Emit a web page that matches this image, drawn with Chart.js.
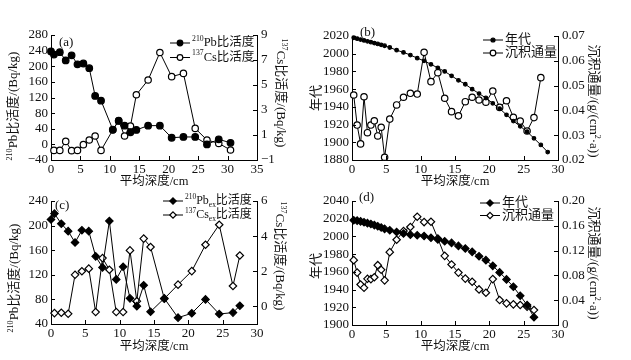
<!DOCTYPE html>
<html>
<head>
<meta charset="utf-8">
<script src="https://cdn.jsdelivr.net/npm/chart.js@4.4.1/dist/chart.umd.min.js"></script>
<style>
  html, body { margin: 0; padding: 0; background: #fff; }
  #wrap { position: relative; width: 631px; height: 360px; overflow: hidden; }
  canvas { position: absolute; }
</style>
</head>
<body>
<div id="wrap">
  <canvas id="ca" width="300" height="190" style="left:0;top:0"></canvas>
  <canvas id="cb" width="331" height="190" style="left:300px;top:0"></canvas>
  <canvas id="cc" width="300" height="194" style="left:0;top:166px"></canvas>
  <canvas id="cd" width="331" height="194" style="left:300px;top:166px"></canvas>
</div>
<script>
// ---- panel (a): 210Pb / 137Cs activity ----
const aPbDepth = [0, 0.5, 1.5, 2.5, 3.5, 4.5, 5.5, 6.5, 7.5, 8.5, 10.5, 11.5, 12.5, 13.5, 14.5, 16.5, 18.5, 20.5, 22.5, 24.5, 26.5, 28.5, 30.5];
const aPb = [238, 230, 236, 215, 228, 205, 207, 195, 124, 112, 38, 60, 48, 31, 37, 48, 48, 17, 19, 19, 0, 13, 4];
const aCsDepth = [0.5, 1.5, 2.5, 3.5, 4.5, 5.5, 6.5, 7.5, 8.5, 10.5, 11.5, 12.5, 13.5, 14.5, 16.5, 18.5, 20.5, 22.5, 24.5, 26.5, 28.5, 30.5];
const aCs = [-0.23, -0.23, 0.49, -0.25, -0.23, 0.23, 0.6, 0.92, -0.23, 1.4, 2.15, 0.92, 1.72, 4.22, 5.4, 7.6, 5.67, 5.93, 1.53, 0.6, 0.33, -0.2];
const aTicksX = [0, 5, 10, 15, 20, 25, 30, 35];
const aTicksL = [-40, 0, 40, 80, 120, 160, 200, 240, 280];
const aTicksR = [-1, 1, 3, 5, 7, 9];

// ---- panel (b): age / flux ----
const bDepth = [0.25, 0.75, 1.25, 1.75, 2.25, 2.75, 3.25, 3.75, 4.25, 4.75, 5.5, 6.5, 7.5, 8.5, 9.5, 10.5, 11.5, 12.5, 13.5, 14.5, 15.5, 16.5, 17.5, 18.5, 19.5, 20.5, 21.5, 22.5, 23.5, 24.5, 25.5, 26.5, 27.5, 28.5];
const bAge = [2018, 2017, 2016, 2015, 2014, 2013, 2012, 2011, 2010, 2009, 2007, 2004, 2001.5, 1998.5, 1995, 1992, 1988, 1984, 1980, 1975, 1970, 1965.5, 1960, 1955, 1950, 1944, 1938, 1931, 1924, 1918, 1912, 1904.5, 1897, 1889];
const bFlux = [0.0462, 0.0341, 0.0265, 0.0455, 0.031, 0.0341, 0.0358, 0.0297, 0.0332, 0.0211, 0.0365, 0.0422, 0.0453, 0.0469, 0.0466, 0.0634, 0.0516, 0.0552, 0.0449, 0.0395, 0.0378, 0.0435, 0.0453, 0.0442, 0.0433, 0.0478, 0.0412, 0.0439, 0.0372, 0.0357, 0.0317, 0.0371, 0.0532];
const bTicksX = [0, 5, 10, 15, 20, 25, 30];
const bTicksL = [1880, 1900, 1920, 1940, 1960, 1980, 2000, 2020];
const bTicksR = [0.02, 0.03, 0.04, 0.05, 0.06, 0.07];

// ---- panel (c): 210Pbex / 137Csex activity ----
const cPbDepth = [0, 0.5, 1.5, 2.5, 3.5, 4.5, 5.5, 6.5, 7.5, 8.5, 9.5, 10.5, 11.5, 12.5, 13.5, 14.5, 16.5, 18.5, 20.5, 22.5, 24.5, 26.5, 27.5];
const cPb = [210, 219.5, 203, 191, 172.5, 192.5, 191, 150, 132, 207.5, 112.5, 133, 81.7, 69, 103, 60, 81.7, 50.3, 57.4, 80, 56.3, 58.5, 69.7];
const cCsDepth = [0.5, 1.5, 2.5, 3.5, 4.5, 5.5, 6.5, 7.5, 8.5, 9.5, 10.5, 11.5, 12.5, 13.5, 14.5, 16.5, 18.5, 20.5, 22.5, 24.5, 26.5, 27.5];
const cCs = [-0.38, -0.36, -0.42, 1.8, 2.0, 2.15, -0.32, 2.75, 2.09, -0.32, -0.32, 3.19, 0.3, 3.86, 3.38, 0.44, 1.24, 2.01, 3.51, 4.65, 1.16, 2.9];
const cTicksX = [0, 5, 10, 15, 20, 25, 30];
const cTicksL = [40, 80, 120, 160, 200, 240];
const cTicksR = [0, 2, 4, 6];

// ---- panel (d): age / flux ----
const dDepth = [0.25, 0.75, 1.25, 1.75, 2.25, 2.75, 3.25, 3.75, 4.25, 4.75, 5.5, 6.5, 7.5, 8.5, 9.5, 10.5, 11.5, 12.5, 13.5, 14.5, 15.5, 16.5, 17.5, 18.5, 19.5, 20.5, 21.5, 22.5, 23.5, 24.5, 25.5, 26.5];
const dAge = [2018.3, 2017.8, 2017, 2016, 2015, 2014, 2012.8, 2011.5, 2010, 2008.5, 2007, 2005, 2003.3, 2002, 2001.4, 2000.5, 1998.5, 1996.5, 1994.6, 1992.7, 1989.3, 1986.4, 1982.6, 1977.7, 1973.2, 1966.8, 1959.4, 1951.5, 1943.2, 1933, 1922.5, 1908.7];
const dFlux = [0.1046, 0.0845, 0.0654, 0.060, 0.0745, 0.074, 0.077, 0.0965, 0.089, 0.072, 0.1175, 0.1375, 0.1515, 0.158, 0.1747, 0.166, 0.1665, 0.1395, 0.1115, 0.0977, 0.0845, 0.0748, 0.0697, 0.0574, 0.052, 0.074, 0.0402, 0.0349, 0.0333, 0.0322, 0.0295, 0.0241];
const dTicksX = [0, 5, 10, 15, 20, 25, 30];
const dTicksL = [1900, 1920, 1940, 1960, 1980, 2000, 2020, 2040];
const dTicksR = [0, 0.04, 0.08, 0.12, 0.16, 0.20];

const FONT = '"Liberation Serif", "Times New Roman", "Noto Sans CJK SC", serif';
const INK = '#111';

function pts(xs, ys) {
  return ys.map((y, i) => ({ x: xs[i], y: y }));
}

function series(data, axis, style, filled, r) {
  return {
    data: data,
    yAxisID: axis,
    borderColor: '#000',
    borderWidth: 1,
    pointStyle: style,
    pointRadius: r,
    pointBackgroundColor: filled ? '#000' : '#fff',
    pointBorderColor: '#000',
    pointBorderWidth: 1.2,
    tension: 0,
    fill: false,
    clip: false
  };
}

// text with superscript / subscript pieces
function richWidth(ctx, parts, size) {
  let w = 0;
  parts.forEach(p => {
    ctx.font = (p[1] ? size * 0.62 : size) + 'px ' + FONT;
    w += ctx.measureText(p[0]).width;
  });
  return w;
}
function drawRich(ctx, parts, x, y, size) {
  ctx.textBaseline = 'middle';
  ctx.textAlign = 'left';
  parts.forEach(p => {
    const small = !!p[1];
    ctx.font = (small ? size * 0.62 : size) + 'px ' + FONT;
    let dy = 0;
    if (p[1] === 'sup') dy = -size * 0.33;
    if (p[1] === 'sub') dy = size * 0.3;
    ctx.fillText(p[0], x, y + dy);
    x += ctx.measureText(p[0]).width;
  });
}

function marker(ctx, style, x, y, r, filled) {
  ctx.beginPath();
  if (style === 'rectRot') {
    ctx.moveTo(x, y - r); ctx.lineTo(x + r, y); ctx.lineTo(x, y + r); ctx.lineTo(x - r, y); ctx.closePath();
  } else {
    ctx.arc(x, y, r, 0, Math.PI * 2);
  }
  ctx.fillStyle = filled ? '#000' : '#fff';
  ctx.fill();
  ctx.lineWidth = 1.2;
  ctx.strokeStyle = '#000';
  ctx.stroke();
}

const deco = {
  id: 'deco',
  afterDraw(chart, args, o) {
    const ctx = chart.ctx;
    ctx.save();
    // inward tick marks
    ctx.strokeStyle = '#000';
    ctx.lineWidth = 1;
    Object.values(chart.scales).forEach(s => {
      s.ticks.forEach((t, i) => {
        const p = Math.round(s.getPixelForTick(i)) + 0.5;
        ctx.beginPath();
        if (s.axis === 'x') { ctx.moveTo(p, s.top); ctx.lineTo(p, s.top - 4); }
        else if (s.position === 'left') { ctx.moveTo(s.right, p); ctx.lineTo(s.right + 4, p); }
        else { ctx.moveTo(s.left, p); ctx.lineTo(s.left - 4, p); }
        ctx.stroke();
      });
    });
    ctx.fillStyle = INK;
    // panel tag
    drawRich(ctx, [[o.tag]], o.tagX, o.tagY, 13);
    // axis titles
    o.titles.forEach(t => {
      ctx.save();
      ctx.translate(t.x, t.y);
      ctx.rotate(t.rot);
      const w = richWidth(ctx, t.parts, 13);
      ctx.fillStyle = INK;
      drawRich(ctx, t.parts, -w / 2, 0, 13);
      ctx.restore();
    });
    // legend
    const L = o.legend;
    L.items.forEach((it, i) => {
      const y = L.y + i * L.dy;
      ctx.beginPath();
      ctx.strokeStyle = '#000';
      ctx.lineWidth = 1;
      ctx.moveTo(L.x1, y); ctx.lineTo(L.x2, y);
      ctx.stroke();
      marker(ctx, it.style, (L.x1 + L.x2) / 2, y, it.r, it.filled);
      ctx.fillStyle = INK;
      drawRich(ctx, it.parts, L.x2 + 2, y, L.size);
    });
    ctx.restore();
  }
};

function axis(ticks, pos, width, fmt, min, max) {
  return {
    type: 'linear',
    position: pos,
    min: min !== undefined ? min : ticks[0],
    max: max !== undefined ? max : ticks[ticks.length - 1],
    afterBuildTicks: s => { s.ticks = ticks.map(v => ({ value: v })); },
    afterFit: s => { if (pos === 'bottom') s.height = width; else s.width = width; },
    grid: { display: false, drawTicks: false },
    border: { display: true, color: '#000', width: 1 },
    ticks: {
      color: INK,
      padding: pos === 'bottom' ? 2 : (pos === 'left' ? 3 : 4),
      font: { family: FONT, size: 13 },
      maxRotation: 0,
      autoSkip: false,
      callback: fmt || (v => String(v).replace('-', '\u2212'))
    }
  };
}

function makeChart(id, cfg) {
  const xAxis = axis(cfg.xt, 'bottom', cfg.xh);
  xAxis.title = {
    display: true, text: '平均深度/cm', color: INK,
    font: { family: FONT, size: 12.5 },
    padding: { top: 0, bottom: cfg.xtp }
  };
  return new Chart(document.getElementById(id), {
    type: 'line',
    data: { datasets: cfg.datasets },
    options: {
      responsive: false,
      animation: false,
      devicePixelRatio: 1,
      layout: { padding: { top: cfg.top, left: 0, right: 0, bottom: 0 } },
      scales: {
        x: xAxis,
        y: axis(cfg.lt, 'left', cfg.lw, cfg.lf, cfg.lmin, cfg.lmax),
        y1: axis(cfg.rt, 'right', cfg.rw, cfg.rf, cfg.rmin, cfg.rmax)
      },
      plugins: {
        legend: { display: false },
        tooltip: { enabled: false },
        deco: cfg.deco
      }
    },
    plugins: [deco]
  });
}

const UP = -Math.PI / 2, DOWN = Math.PI / 2;
const pbTitle = [['210', 'sup'], ['Pb比活度/(Bq/kg)']];
const csTitle = [['137', 'sup'], ['Cs比活度/(Bq/kg)']];
const fluxTitle = [['沉积通量/(g/(cm'], ['2', 'sup'], ['\u00b7a))']];
const fix2 = v => (v === 0 ? '0' : v.toFixed(2));

makeChart('ca', {
  top: 35, xh: 30, xtp: 1, lw: 51, rw: 43,
  xt: aTicksX, lt: aTicksL, rt: aTicksR,
  datasets: [
    series(pts(aPbDepth, aPb), 'y', 'circle', true, 3.3),
    series(pts(aCsDepth, aCs), 'y1', 'circle', false, 3.2)
  ],
  deco: {
    tag: '(a)', tagX: 59, tagY: 43,
    titles: [
      { parts: pbTitle, x: 14, y: 106, rot: UP },
      { parts: csTitle, x: 280, y: 93, rot: DOWN }
    ],
    legend: { x1: 170, x2: 190, y: 43, dy: 14.5, size: 12.5, items: [
      { parts: [['210', 'sup'], ['Pb比活度']], style: 'circle', filled: true, r: 2.8 },
      { parts: [['137', 'sup'], ['Cs比活度']], style: 'circle', filled: false, r: 2.8 }
    ] }
  }
});

makeChart('cb', {
  top: 36, xh: 30, xtp: 1, lw: 52, rw: 73,
  xt: bTicksX, lt: bTicksL, rt: bTicksR, rf: fix2,
  datasets: [
    series(pts(bDepth, bAge), 'y', 'circle', true, 1.8),
    series(pts(bDepth, bFlux), 'y1', 'circle', false, 3.2)
  ],
  deco: {
    tag: '(b)', tagX: 60, tagY: 33,
    titles: [
      { parts: [['年代']], x: 17, y: 98, rot: UP },
      { parts: fluxTitle, x: 293, y: 101, rot: DOWN }
    ],
    legend: { x1: 183, x2: 203, y: 40, dy: 13, size: 13, items: [
      { parts: [['年代']], style: 'circle', filled: true, r: 2 },
      { parts: [['沉积通量']], style: 'circle', filled: false, r: 2.8 }
    ] }
  }
});

makeChart('cc', {
  top: 35, xh: 36, xtp: 6, lw: 51, rw: 43,
  xt: cTicksX, lt: cTicksL, rt: cTicksR, rmin: -1, rmax: 6,
  datasets: [
    series(pts(cPbDepth, cPb), 'y', 'rectRot', true, 3.7),
    series(pts(cCsDepth, cCs), 'y1', 'rectRot', false, 3.7)
  ],
  deco: {
    tag: '(c)', tagX: 55, tagY: 40,
    titles: [
      { parts: pbTitle, x: 15, y: 112, rot: UP },
      { parts: csTitle, x: 279, y: 90, rot: DOWN }
    ],
    legend: { x1: 163, x2: 183, y: 35, dy: 14, size: 12, items: [
      { parts: [['210', 'sup'], ['Pb'], ['ex', 'sub'], ['比活度']], style: 'rectRot', filled: true, r: 3.2 },
      { parts: [['137', 'sup'], ['Cs'], ['ex', 'sub'], ['比活度']], style: 'rectRot', filled: false, r: 3.2 }
    ] }
  }
});

makeChart('cd', {
  top: 35, xh: 35, xtp: 6, lw: 52, rw: 73,
  xt: dTicksX, lt: dTicksL, rt: dTicksR, rf: fix2,
  datasets: [
    series(pts(dDepth, dAge), 'y', 'rectRot', true, 3.7),
    series(pts(dDepth, dFlux), 'y1', 'rectRot', false, 3.7)
  ],
  deco: {
    tag: '(d)', tagX: 59, tagY: 32,
    titles: [
      { parts: [['年代']], x: 17, y: 100, rot: UP },
      { parts: fluxTitle, x: 293, y: 97, rot: DOWN }
    ],
    legend: { x1: 180, x2: 200, y: 37, dy: 12.5, size: 13, items: [
      { parts: [['年代']], style: 'rectRot', filled: true, r: 3.2 },
      { parts: [['沉积通量']], style: 'rectRot', filled: false, r: 3.2 }
    ] }
  }
});
</script>
</body>
</html>
